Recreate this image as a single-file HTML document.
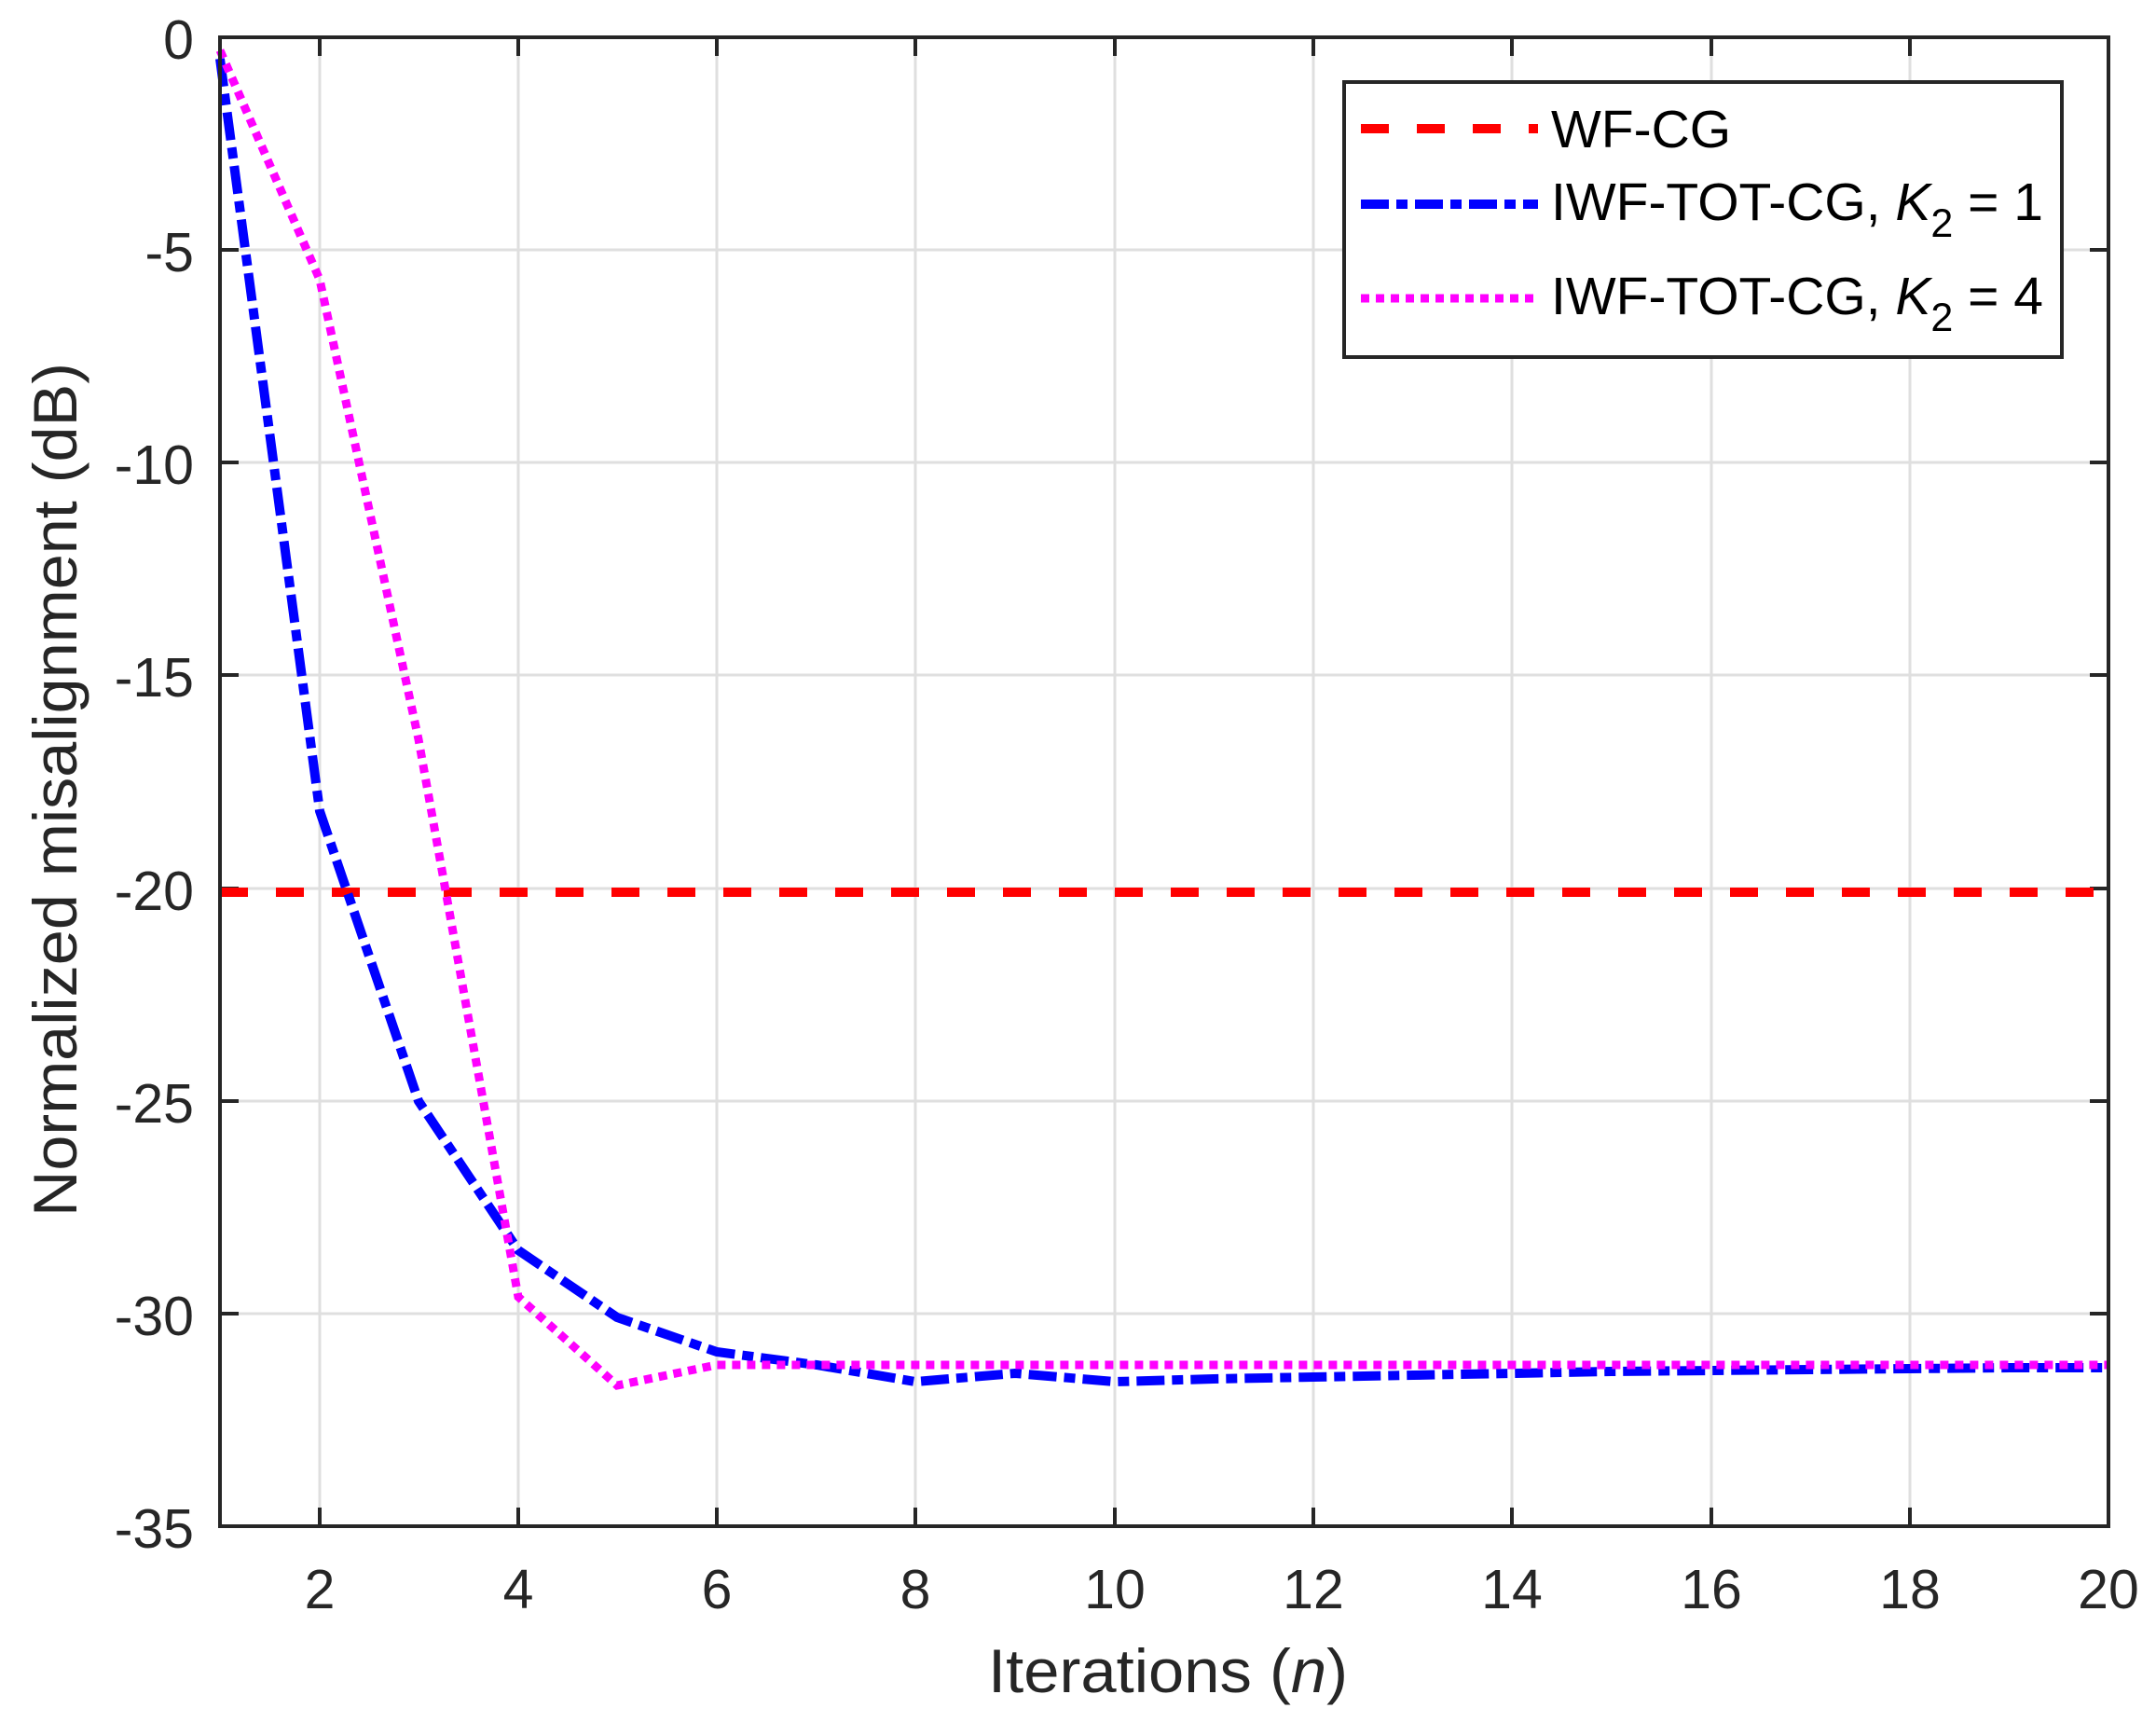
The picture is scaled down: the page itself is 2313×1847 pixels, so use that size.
<!DOCTYPE html>
<html><head><meta charset="utf-8"><style>
html,body{margin:0;padding:0;background:#fff;}
svg{display:block;}
text{font-family:"Liberation Sans",Arial,sans-serif;fill:#262626;}
</style></head><body>
<svg width="2313" height="1847" viewBox="0 0 2313 1847" xmlns="http://www.w3.org/2000/svg">
<rect width="2313" height="1847" fill="#fff"/>
<g stroke="#dfdfdf" stroke-width="3">
<line x1="343" y1="40" x2="343" y2="1637"/>
<line x1="556" y1="40" x2="556" y2="1637"/>
<line x1="769" y1="40" x2="769" y2="1637"/>
<line x1="982" y1="40" x2="982" y2="1637"/>
<line x1="1196" y1="40" x2="1196" y2="1637"/>
<line x1="1409" y1="40" x2="1409" y2="1637"/>
<line x1="1622" y1="40" x2="1622" y2="1637"/>
<line x1="1836" y1="40" x2="1836" y2="1637"/>
<line x1="2049" y1="40" x2="2049" y2="1637"/>
<line x1="236" y1="268" x2="2262" y2="268"/>
<line x1="236" y1="496" x2="2262" y2="496"/>
<line x1="236" y1="724" x2="2262" y2="724"/>
<line x1="236" y1="953" x2="2262" y2="953"/>
<line x1="236" y1="1181" x2="2262" y2="1181"/>
<line x1="236" y1="1409" x2="2262" y2="1409"/>
</g>
<g stroke="#262626" stroke-width="4">
<path d="M343 1637v-20M556 1637v-20M769 1637v-20M982 1637v-20M1196 1637v-20M1409 1637v-20M1622 1637v-20M1836 1637v-20M2049 1637v-20"/>
<path d="M343 40v20M556 40v20M769 40v20M982 40v20M1196 40v20M1409 40v20M1622 40v20M1836 40v20M2049 40v20"/>
<path d="M236 268h20M236 496h20M236 724h20M236 953h20M236 1181h20M236 1409h20"/>
<path d="M2262 268h-20M2262 496h-20M2262 724h-20M2262 953h-20M2262 1181h-20M2262 1409h-20"/>
</g>
<line x1="236" y1="957" x2="2262" y2="957" stroke="#ff0000" stroke-width="10" stroke-dasharray="30 30"/>
<polyline fill="none" stroke="#0000ff" stroke-width="10" stroke-dasharray="30 8 12 8"
 points="236,63 343,870 449,1181 556,1341 662,1413 769,1450 876,1464 982,1482 1089,1473 1196,1482 1302,1479 1409,1477 1516,1475 1622,1473 1729,1471 1836,1470 1942,1469 2049,1468 2156,1467 2262,1467"/>
<polyline fill="none" stroke="#ff00ff" stroke-width="9" stroke-dasharray="9 7"
 points="236,54 343,300 449,793 556,1391 662,1486 769,1464 876,1464 982,1464 1089,1464 1196,1464 1302,1464 1409,1464 1516,1464 1622,1464 1729,1464 1836,1464 1942,1464 2049,1464 2156,1464 2262,1464"/>
<rect x="236" y="40" width="2026" height="1597" fill="none" stroke="#262626" stroke-width="4"/>
<g font-size="59" text-anchor="end">
<text x="208" y="63">0</text>
<text x="208" y="291">-5</text>
<text x="208" y="519">-10</text>
<text x="208" y="747">-15</text>
<text x="208" y="976">-20</text>
<text x="208" y="1204">-25</text>
<text x="208" y="1432">-30</text>
<text x="208" y="1660">-35</text>
</g>
<g font-size="59" text-anchor="middle">
<text x="343" y="1725">2</text>
<text x="556" y="1725">4</text>
<text x="769" y="1725">6</text>
<text x="982" y="1725">8</text>
<text x="1196" y="1725">10</text>
<text x="1409" y="1725">12</text>
<text x="1622" y="1725">14</text>
<text x="1836" y="1725">16</text>
<text x="2049" y="1725">18</text>
<text x="2262" y="1725">20</text>
</g>
<text x="1060" y="1815" font-size="66" textLength="386" lengthAdjust="spacingAndGlyphs">Iterations (<tspan font-style="italic">n</tspan>)</text>
<text transform="translate(82,1305) rotate(-90)" font-size="66" textLength="916" lengthAdjust="spacingAndGlyphs">Normalized misalignment (dB)</text>
<rect x="1442" y="88" width="770" height="295" fill="#fff" stroke="#262626" stroke-width="4"/>
<line x1="1460" y1="138" x2="1650" y2="138" stroke="#ff0000" stroke-width="10" stroke-dasharray="30 30"/>
<line x1="1460" y1="219" x2="1650" y2="219" stroke="#0000ff" stroke-width="10" stroke-dasharray="30 8 12 8"/>
<line x1="1460" y1="320" x2="1650" y2="320" stroke="#ff00ff" stroke-width="9" stroke-dasharray="9 7"/>
<g font-size="57">
<text x="1664" y="158" style="fill:#000">WF-CG</text>
<text x="1664" y="236" style="fill:#000">IWF-TOT-CG, <tspan font-style="italic">K</tspan><tspan font-size="43" dy="18">2</tspan><tspan dy="-18"> = 1</tspan></text>
<text x="1664" y="337" style="fill:#000">IWF-TOT-CG, <tspan font-style="italic">K</tspan><tspan font-size="43" dy="18">2</tspan><tspan dy="-18"> = 4</tspan></text>
</g>
</svg>
</body></html>
